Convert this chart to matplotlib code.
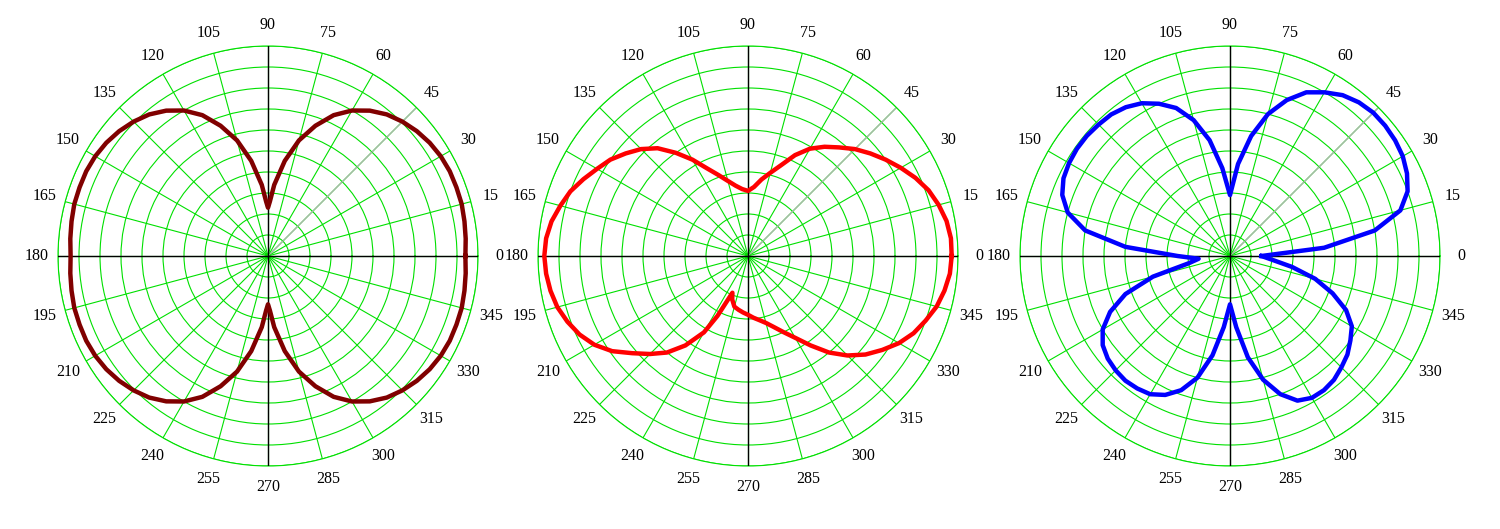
import numpy as np
import matplotlib
matplotlib.use("Agg")
import matplotlib.pyplot as plt

# Plot 1 (dark red): first quadrant, pattern symmetric about both axes
ang1_q = [0,5,10,15,20,25,30,35,40,45,50,55,60,65,70,75,80,85,88,90]
r1_q = [0.94,0.945,0.95,0.955,0.955,0.955,0.95,0.94,0.925,0.905,0.88,0.845,0.80,0.74,0.66,0.57,0.46,0.34,0.26,0.23]
ang1 = ang1_q + [180 - a for a in ang1_q[::-1][1:]]
r1 = r1_q + r1_q[::-1][1:]
ang1 = ang1 + [360 - a for a in ang1[::-1][1:]]
r1 = r1 + r1[::-1][1:]

# Plot 2 (red)
ang2 = [0,5,10,15,20,25,30,35,40,45,50,55,60,65,70,75,80,85,90,95,100,105,110,115,120,125,130,135,140,145,150,155,160,165,170,175,180,
        185,190,195,200,205,210,215,220,225,230,235,240,243,247,250,255,260,265,270,275,280,285,290,295,300,305,310,315,320,325,330,335,340,345,350,355,360]
r2 = [0.97,0.97,0.96,0.94,0.915,0.88,0.84,0.80,0.76,0.72,0.675,0.635,0.59,0.53,0.46,0.41,0.37,0.33,0.31,0.32,0.34,0.37,0.41,0.46,0.53,0.60,0.67,0.72,0.76,0.80,0.83,0.865,0.90,0.925,0.95,0.965,0.97,
      0.965,0.955,0.94,0.915,0.885,0.845,0.79,0.72,0.66,0.60,0.52,0.42,0.32,0.19,0.22,0.25,0.26,0.27,0.28,0.295,0.31,0.33,0.36,0.40,0.45,0.52,0.60,0.67,0.73,0.78,0.83,0.87,0.90,0.93,0.95,0.965,0.97]

# Plot 3 (blue)
ang3 = list(range(0, 365, 5))
r3 = [0.15,0.45,0.70,0.84,0.90,0.93,0.95,0.96,0.965,0.965,0.955,0.935,0.90,0.86,0.79,0.70,0.58,0.44,0.29,
      0.42,0.56,0.67,0.75,0.80,0.84,0.865,0.88,0.885,0.89,0.89,0.885,0.875,0.85,0.80,0.70,0.50,0.25,
      0.15,0.20,0.38,0.53,0.63,0.70,0.74,0.76,0.77,0.775,0.77,0.76,0.73,0.68,0.60,0.48,0.34,0.23,
      0.34,0.49,0.61,0.70,0.76,0.78,0.78,0.77,0.75,0.73,0.70,0.67,0.61,0.52,0.42,0.30,0.20,0.15]

series = [(ang1, r1, "#800000"), (ang2, r2, "#ff0000"), (ang3, r3, "#0000ff")]
centers = [268, 748, 1230]
angle_labels = list(range(0, 360, 15))

W, H = 1500, 529
fig = plt.figure(figsize=(15, 5.29), dpi=100)
R = 210
for (a, r, c), cx in zip(series, centers):
    ax = fig.add_axes([(cx - R) / W, (H - 256 - R) / H, 2 * R / W, 2 * R / H], projection="polar")
    ax.set_ylim(0, 1)
    ax.set_xticks(np.deg2rad(angle_labels))
    ax.set_xticklabels([])
    ax.set_yticks(np.arange(0.1, 1.01, 0.1))
    ax.set_yticklabels([])
    ax.grid(True, color="#00e000", lw=0.8)
    ax.spines["polar"].set_color("#00e000")
    ax.spines["polar"].set_linewidth(0.8)
    ax.tick_params(length=0)
    for t in (0, 90, 180, 270):
        ax.plot([np.deg2rad(t)] * 2, [0, 1], color="black", lw=1.0, zorder=3)
    ax.plot([np.deg2rad(45)] * 2, [0, 1], color="#b0b0b0", lw=0.8, zorder=2.5)
    ax.plot(np.deg2rad(a), r, color=c, lw=3.2, zorder=4, solid_joinstyle="round")
    for lab in angle_labels:
        ax.text(np.deg2rad(lab), 1.1, str(lab), ha="center", va="center",
                fontsize=11.5, family="Liberation Serif", clip_on=False)

fig.savefig("out.png", dpi=100)
